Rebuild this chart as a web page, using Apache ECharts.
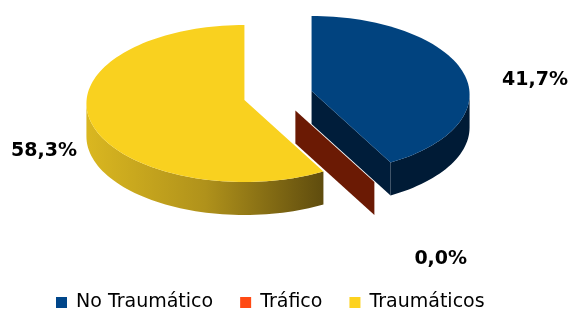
<!DOCTYPE html>
<html>
<head>
<meta charset="utf-8">
<script src="https://cdn.jsdelivr.net/npm/echarts@6/dist/echarts.min.js"></script>
<style>
  html, body { margin: 0; padding: 0; background: #fff; }
  #chart { width: 573px; height: 311px; }
</style>
</head>
<body>
<div id="chart"></div>
<script>
// datos
const names = ['No Traumático', 'Tráfico', 'Traumáticos'];
const values = [5, 0, 7];
const legendColors = ['#00468a', '#ff4a14', '#fdd21f'];

// colores de las caras 3D
const faceColors = [
  { top: '#01437f', side: '#001b36', cut: '#001d3a' },
  { top: '#c8380c', side: '#6b1a04', cut: '#6b1a04' },
  {
    top: '#f9d11f',
    side: { type: 'linear', x: 0, y: 0, x2: 1, y2: 0, colorStops: [
      { offset: 0, color: '#dab720' },
      { offset: 0.5, color: '#b0921b' },
      { offset: 1, color: '#5f4c0e' }
    ] },
    cut: '#8a7014'
  }
];

// geometria del pastel (px)
const CX = 278, CY = 95.5;   // centro sin separar
const RX = 158, RY = 78.5;   // radios de la elipse
const OFF = 3.5;             // desplazamiento de perspectiva
const DEPTH = 33;            // grosor
const EXPLODE = 0.22;        // separacion de porciones
const LABEL_GAP = 40;
const MARGIN_L = 11, MARGIN_R = 5;   // la etiqueta no sale del grafico
const LABEL_FONT = 'bold 19px "DejaVu Sans"';

const total = values.reduce((a, b) => a + b, 0);
const rad = d => d * Math.PI / 180;

const measureCtx = document.createElement('canvas').getContext('2d');
measureCtx.font = LABEL_FONT;

function rim(ax, ay, deg, dz) {
  return [ax + RX * Math.sin(rad(deg)), ay + OFF - RY * Math.cos(rad(deg)) + dz];
}

function arcPts(ax, ay, a, b, dz) {
  const pts = [];
  const n = Math.max(1, Math.ceil((b - a) / 2));
  for (let k = 0; k <= n; k++) {
    pts.push(rim(ax, ay, a + (b - a) * k / n, dz));
  }
  return pts;
}

function makeRender(idx) {
  return function (params, api) {
    let before = 0;
    for (let i = 0; i < idx; i++) before += values[i];
    const start = before / total * 360;
    const end = start + api.value(0) / total * 360;
    const mid = (start + end) / 2;
    const ax = CX + RX * EXPLODE * Math.sin(rad(mid));
    const ay = CY - RY * EXPLODE * Math.cos(rad(mid));
    const col = faceColors[idx];
    const children = [];

    // caras de corte visibles
    const cutFace = (deg) => {
      const r = rim(ax, ay, deg, 0);
      const rb = rim(ax, ay, deg, DEPTH);
      children.push({
        type: 'polygon',
        shape: { points: [[ax, ay], r, rb, [ax, ay + DEPTH]] },
        style: { fill: col.cut }
      });
    };
    if (Math.sin(rad(start)) < -0.001) cutFace(start);
    if (Math.sin(rad(end)) > 0.001) cutFace(end);

    // pared exterior (mitad frontal)
    const wa = Math.max(start, 90), wb = Math.min(end, 270);
    if (wb > wa) {
      const topArc = arcPts(ax, ay, wa, wb, 0);
      const botArc = arcPts(ax, ay, wa, wb, DEPTH).reverse();
      children.push({
        type: 'polygon',
        shape: { points: topArc.concat(botArc) },
        style: { fill: col.side }
      });
    }

    // cara superior
    if (end > start) {
      children.push({
        type: 'polygon',
        shape: { points: [[ax, ay]].concat(arcPts(ax, ay, start, end, 0)) },
        style: { fill: col.top }
      });
    }

    // etiqueta
    const s = Math.sin(rad(mid)), c = -Math.cos(rad(mid));
    const r = rim(ax, ay, mid, 0);
    const pct = (api.value(0) / total * 100).toFixed(1).replace('.', ',') + '%';
    const w = measureCtx.measureText(pct).width;
    const align = s >= 0 ? 'left' : 'right';
    let lx = r[0] + (s >= 0 ? LABEL_GAP : -LABEL_GAP);
    if (align === 'right' && lx - w < MARGIN_L) lx = MARGIN_L + w;
    if (align === 'left' && lx + w > 573 - MARGIN_R) lx = 573 - MARGIN_R - w;
    const ly = r[1] + (c > 0.5 ? DEPTH : DEPTH / 2) + LABEL_GAP * c;
    const valign = c > 0.5 ? 'top' : 'middle';
    children.push({
      type: 'text',
      x: lx, y: ly,
      style: {
        text: pct,
        fill: '#000',
        font: LABEL_FONT,
        align: align,
        textAlign: align,
        verticalAlign: valign,
        textVerticalAlign: valign
      }
    });

    return { type: 'group', children: children };
  };
}

const chart = echarts.init(document.getElementById('chart'));
const zOrder = [2, 1, 2];

const option = {
  animation: false,
  legend: {
    data: names,
    left: 56,
    top: 293,
    padding: 0,
    icon: 'rect',
    itemWidth: 11,
    itemHeight: 11,
    itemGap: 27,
    selectedMode: false,
    textStyle: {
      fontFamily: 'DejaVu Sans',
      fontSize: 19,
      color: '#000',
      padding: [0, 0, 0, 4]
    }
  },
  series: names.map((n, i) => ({
    name: n,
    type: 'custom',
    coordinateSystem: 'none',
    z: zOrder[i],
    itemStyle: { color: legendColors[i] },
    renderItem: makeRender(i),
    data: [[values[i]]]
  }))
};

chart.setOption(option);
</script>
</body>
</html>
